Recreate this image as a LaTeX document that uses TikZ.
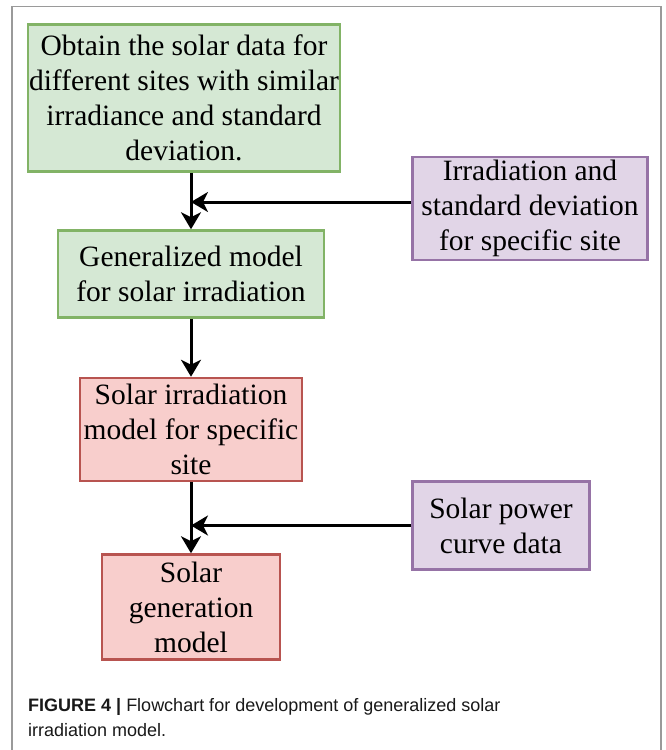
\documentclass[tikz,border=0pt]{standalone}
\usepackage{fontspec}
\setmainfont{Liberation Serif}
\newfontfamily\capfont{Liberation Sans}
\usetikzlibrary{arrows.meta}
\definecolor{LeafFill}{HTML}{D5E8D4}
\definecolor{LeafEdge}{HTML}{82B366}
\definecolor{LilacFill}{HTML}{E1D5E7}
\definecolor{LilacEdge}{HTML}{9673A6}
\definecolor{RoseFill}{HTML}{F8CECC}
\definecolor{RoseEdge}{HTML}{B85450}
\definecolor{FrameGray}{HTML}{9A9A9A}

\begin{document}
\begin{tikzpicture}[x=1pt, y=-1pt,
    box/.style={draw, line width=2.5pt, align=center, inner sep=0pt,
                font=\fontsize{29.5}{35}\selectfont, text=black},
    greenbox/.style={box, draw=LeafEdge, fill=LeafFill},
    purplebox/.style={box, draw=LilacEdge, fill=LilacFill},
    redbox/.style={box, draw=RoseEdge, fill=RoseFill},
    flow/.style={line width=3pt, -{Stealth[length=17pt, width=20pt, inset=5pt]}},
    captext/.style={anchor=base west, inner sep=0pt, text=black!90,
                    font=\capfont\fontsize{18}{25}\selectfont}]
  \useasboundingbox[fill=white] (0,0) rectangle (665,750);
  % frame of the figure
  \draw[FrameGray, line width=1.5pt] (12,750) -- (12,6.5) -- (661,6.5) -- (661,750);

  % boxes
  \node[greenbox, minimum width=312pt, minimum height=147pt] (obtain) at (184,98)
    {Obtain the solar data for\\different sites with similar\\irradiance and standard\\deviation.};
  \node[greenbox, minimum width=266pt, minimum height=87pt] (general) at (191,274)
    {Generalized model\\for solar irradiation};
  \node[purplebox, minimum width=235pt, minimum height=103pt] (irrad) at (530,208.5)
    {Irradiation and\\standard deviation\\for specific site};
  \node[redbox, minimum width=222pt, minimum height=103pt] (sitemodel) at (191,429.5)
    {Solar irradiation\\model for specific\\site};
  \node[redbox, minimum width=178pt, minimum height=105pt] (genmodel) at (191,607)
    {Solar\\generation\\model};
  \node[purplebox, minimum width=177pt, minimum height=88pt] (powercurve) at (501,525.5)
    {Solar power\\curve data};

  % connectors
  \coordinate (irradout) at ([yshift=6.5pt]irrad.west);
  \coordinate (join1) at (general.north |- irradout);
  \coordinate (join2) at (genmodel.north |- powercurve.west);
  \draw[flow] (general.north |- obtain.south) -- (general.north);
  \draw[flow] (irradout) -- (join1);
  \draw[flow] (general.south) -- (sitemodel.north);
  \draw[flow] (sitemodel.south) -- (genmodel.north);
  \draw[flow] (powercurve.west) -- (join2);

  % caption
  \node[captext] (caphead) at (28,711)
    {\textbf{FIGURE 4 |} Flowchart for development of generalized solar};
  \node[captext] (captail) at (28,736) {irradiation model.};
\end{tikzpicture}
\end{document}
